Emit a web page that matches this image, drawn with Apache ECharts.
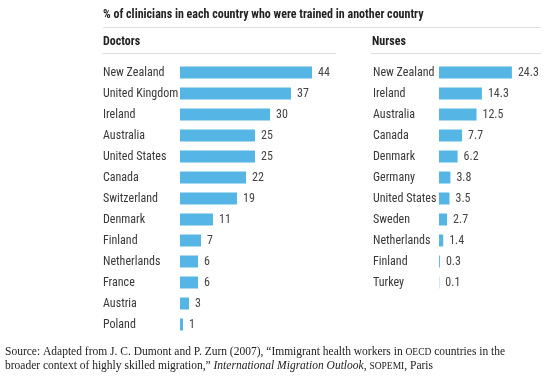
<!DOCTYPE html>
<html><head><meta charset="utf-8">
<script src="https://cdn.jsdelivr.net/npm/echarts@6/dist/echarts.min.js"></script>
<style>html,body{margin:0;padding:0;background:#fff}#c{width:545px;height:379px}</style>
</head><body><div id="c"></div>
<script>
var doctorCountries = ['New Zealand','United Kingdom','Ireland','Australia','United States','Canada','Switzerland','Denmark','Finland','Netherlands','France','Austria','Poland'];
var doctorValues = [44,37,30,25,25,22,19,11,7,6,6,3,1];
var nurseCountries = ['New Zealand','Ireland','Australia','Canada','Denmark','Germany','United States','Sweden','Netherlands','Finland','Turkey'];
var nurseValues = [24.3,14.3,12.5,7.7,6.2,3.8,3.5,2.7,1.4,0.3,0.1];

var NARROW = '"Roboto Condensed","DejaVu Sans Condensed",sans-serif';
var SERIF = '"Liberation Serif",serif';
var BAR = '#55b6e6';
var STEP = 21;
var chart = echarts.init(document.getElementById('c'), null, {renderer:'canvas'});

function catAxis(idx, data, margin){
  return {type:'category', gridIndex:idx, data:data, inverse:true,
    axisLine:{show:false}, axisTick:{show:false},
    axisLabel:{align:'left', margin:margin, color:'#383838', fontFamily:NARROW, fontSize:12, padding:[2,0,0,0]}};
}
function valAxis(idx, max){
  return {type:'value', gridIndex:idx, min:0, max:max, show:false, splitLine:{show:false}};
}
function barSeries(idx, data){
  return {type:'bar', xAxisIndex:idx, yAxisIndex:idx, data:data, barWidth:12,
    itemStyle:{color:BAR}, silent:true,
    label:{show:true, position:'right', distance:6, color:'#444', fontFamily:NARROW, fontSize:12, padding:[2,0,0,0]}};
}

chart.setOption({
  animation:false,
  grid:[
    {left:180, top:62, width:150, height:doctorCountries.length*STEP},
    {left:439, top:62, width:90, height:nurseCountries.length*STEP}
  ],
  xAxis:[valAxis(0,50), valAxis(1,30)],
  yAxis:[catAxis(0,doctorCountries,77), catAxis(1,nurseCountries,66)],
  series:[barSeries(0,doctorValues), barSeries(1,nurseValues)],
  graphic:[
    {type:'text', left:103, top:8.5, style:{text:'% of clinicians in each country who were trained in another country', font:'bold 12px '+NARROW, fill:'#222'}},
    {type:'line', shape:{x1:103,y1:27.5,x2:541,y2:27.5}, style:{stroke:'#dddddd', lineWidth:1}},
    {type:'text', left:103, top:35.5, style:{text:'Doctors', font:'bold 12px '+NARROW, fill:'#222'}},
    {type:'line', shape:{x1:103,y1:53.5,x2:336,y2:53.5}, style:{stroke:'#dddddd', lineWidth:1}},
    {type:'text', left:372, top:35.5, style:{text:'Nurses', font:'bold 12px '+NARROW, fill:'#222'}},
    {type:'line', shape:{x1:371,y1:53.5,x2:541,y2:53.5}, style:{stroke:'#dddddd', lineWidth:1}},
    {type:'text', left:5, top:346, style:{
      text:'{n|Source: Adapted from J. C. Dumont and P. Zurn (2007), \u201cImmigrant health workers in }{sc|OECD}{n| countries in the}\n{n|broader context of highly skilled migration,\u201d }{i|International Migration Outlook}{n|, }{sc|SOPEMI}{n|, Paris}',
      font:'11.5px '+SERIF, fill:'#222',
      rich:{
        n:{fontSize:11.5, fontFamily:SERIF, fill:'#222', lineHeight:14, verticalAlign:'bottom'},
        sc:{fontSize:9.5, fontFamily:SERIF, fill:'#222', lineHeight:14, verticalAlign:'bottom', padding:[0,0,1,0]},
        i:{fontStyle:'italic', fontSize:11.5, fontFamily:SERIF, fill:'#222', lineHeight:14, verticalAlign:'bottom'}
      }
    }}
  ]
});
</script></body></html>
